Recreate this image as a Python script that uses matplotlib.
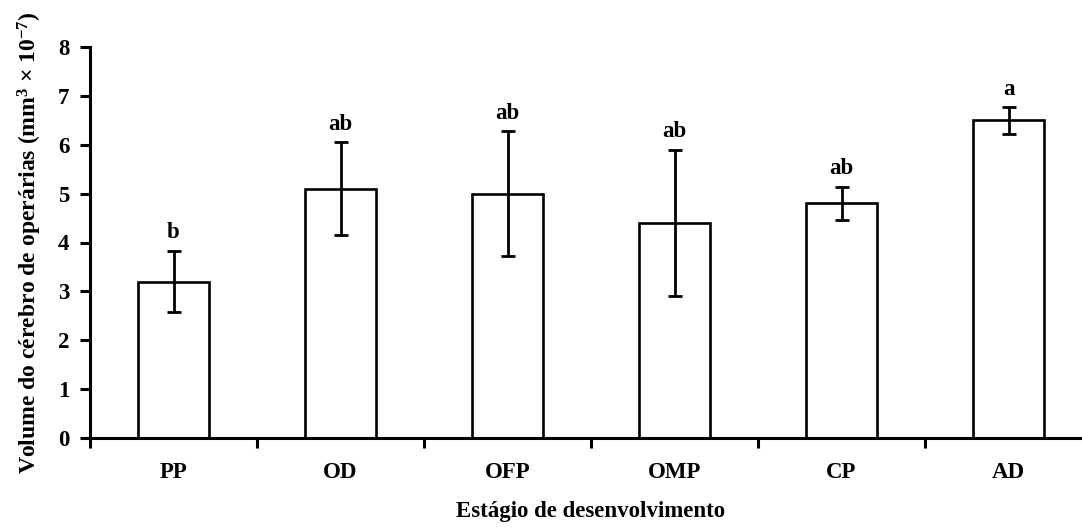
import numpy as np
import matplotlib
matplotlib.use("Agg")
import matplotlib.pyplot as plt

# Dados
estagios = ["PP", "OD", "OFP", "OMP", "CP", "AD"]
volume = [3.2, 5.1, 5.0, 4.4, 4.8, 6.5]
erro = [0.63, 0.95, 1.28, 1.5, 0.34, 0.27]
letras = ["b", "ab", "ab", "ab", "ab", "a"]

plt.rcParams["font.family"] = ["Liberation Serif", "DejaVu Serif"]
plt.rcParams["font.weight"] = "bold"
plt.rcParams["mathtext.default"] = "regular"

FS = 16.5

fig = plt.figure(figsize=(10.82, 5.28), dpi=100)
ax = fig.add_axes([90 / 1082, 90 / 528, 1002 / 1082, 391 / 528])

x = np.arange(len(estagios))
ax.bar(x, volume, width=0.42, color="white", edgecolor="black", linewidth=1.9, zorder=2)
ax.errorbar(x, volume, yerr=erro, fmt="none", ecolor="black", elinewidth=2.0,
            capsize=5, capthick=2.0, zorder=3)

# Letras de significância
for xi, v, e, l in zip(x, volume, erro, letras):
    ax.text(xi, v + e + 0.15, l, ha="center", va="bottom", fontsize=FS, fontweight="bold")

ax.set_xlim(-0.5, len(estagios) - 0.5)
ax.set_ylim(0, 8)

# Marcas do eixo x nas divisões, rótulos no centro
ax.set_xticks(np.arange(-0.5, len(estagios) - 0.5, 1.0))
ax.set_xticklabels([])
ax.set_xticks(x, minor=True)
ax.set_xticklabels(estagios, minor=True, fontsize=FS, fontweight="bold")
ax.tick_params(axis="x", which="major", direction="out", length=7, width=2.2)
ax.tick_params(axis="x", which="minor", length=0, pad=17)

ax.set_yticks(range(0, 9))
ax.set_yticklabels([str(i) for i in range(0, 9)], fontsize=FS, fontweight="bold")
ax.tick_params(axis="y", direction="out", length=7, width=2.2, pad=8)

for s in ["top", "right"]:
    ax.spines[s].set_visible(False)
for s in ["left", "bottom"]:
    ax.spines[s].set_linewidth(2.2)

ax.set_xlabel("Estágio de desenvolvimento", fontsize=FS, fontweight="bold", labelpad=13)
ax.set_ylabel("Volume do cérebro de operárias (mm$^{3}$ × 10$^{-7}$)", fontsize=17,
              fontweight="bold", labelpad=10)

fig.savefig("out.png", dpi=100)
